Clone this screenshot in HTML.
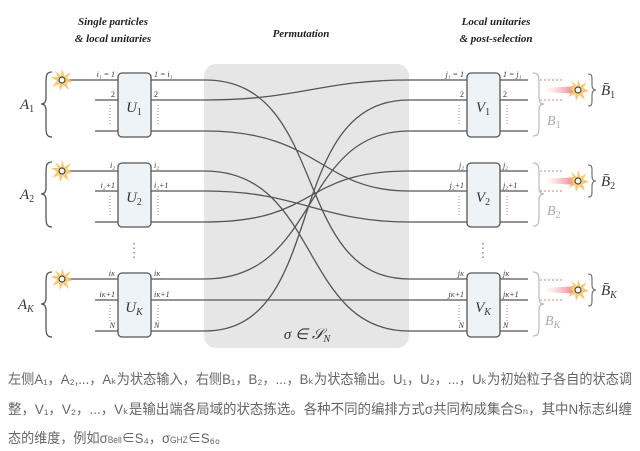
<!DOCTYPE html>
<html><head><meta charset="utf-8"><style>
html,body{margin:0;padding:0;background:#fff;width:640px;height:451px;overflow:hidden}
svg{display:block}
.t{font-family:"Liberation Serif",serif;font-style:italic;font-weight:bold;font-size:11px;fill:#222}
.sm{font-family:"Liberation Serif",serif;font-size:8px;fill:#333}
.smi{font-family:"Liberation Serif",serif;font-style:italic;font-size:8px;fill:#333}
.big{font-family:"Liberation Serif",serif;font-style:italic;font-size:15px;fill:#333}
.gr{font-family:"Liberation Serif",serif;font-style:italic;font-size:14px;fill:#aaa}
.cap{font-family:"Liberation Sans","Noto Sans CJK SC",sans-serif;font-size:14px;fill:#666}
</style></head><body>
<svg width="640" height="451" viewBox="0 0 640 451" xmlns="http://www.w3.org/2000/svg">
<defs>
<radialGradient id="st" cx="50%" cy="50%" r="50%"><stop offset="0" stop-color="#fff3c0"/><stop offset="0.5" stop-color="#fbc86a"/><stop offset="1" stop-color="#f8a040" stop-opacity="0.6"/></radialGradient>
<linearGradient id="bm" x1="0" x2="1"><stop offset="0" stop-color="#f7a0a8" stop-opacity="0"/><stop offset="1" stop-color="#e8707a"/></linearGradient>
<g id="star"><polygon points="0,-11 2.5,-4 9,-8 5,-2 11,1 4.5,3 7,10 1,5 -2,11 -3,4 -10,7 -5,1 -11,-3 -4,-3 -7,-9 -1,-4" fill="url(#st)"/><circle r="3" fill="#fff" stroke="#444" stroke-width="1.2"/></g>
</defs>
<text class="t" x="113" y="25" text-anchor="middle">Single particles</text>
<text class="t" x="113" y="42" text-anchor="middle">&amp; local unitaries</text>
<text class="t" x="301" y="37" text-anchor="middle">Permutation</text>
<text class="t" x="496" y="25" text-anchor="middle">Local unitaries</text>
<text class="t" x="496" y="42" text-anchor="middle">&amp; post-selection</text>

<rect x="204" y="64" width="205" height="284" rx="12" fill="#e6e6e6"/>
<text class="big" x="307" y="339" text-anchor="middle">σ ∈ 𝒮<tspan font-size="10" dy="3">N</tspan></text>

<g fill="none" stroke="#555" stroke-width="1.3">
<!-- left stubs -->
<path d="M62,80H118M95,100H118M95,131H118M62,171H118M95,191H118M95,222H118M62,279H118M95,300H118M95,331H118"/>
<!-- right stubs -->
<path d="M500,80H528M500,100H528M500,131H528M500,171H528M500,191H528M500,222H528M500,279H528M500,300H528M500,331H528"/>
<!-- permutation -->
<path d="M151,80H205C330,80 290,279 409,279H467"/>
<path d="M151,100H205C300,100 320,80 409,80H467"/>
<path d="M151,131H205C320,131 320,191 409,191H467"/>
<path d="M151,171H205C320,171 300,331 409,331H467"/>
<path d="M151,191H205C300,191 320,222 409,222H467"/>
<path d="M151,222H205C320,222 300,171 409,171H467"/>
<path d="M151,279H205C320,279 300,131 409,131H467"/>
<path d="M151,300H467"/>
<path d="M151,331H205C330,331 280,100 409,100H467"/>
<!-- left braces -->
<path d="M52,72C46,72 46,76 46,84V98Q46,104 41,104Q46,104 46,110V125C46,133 46,137 52,137"/>
<path d="M52,162C46,162 46,166 46,174V188Q46,194 41,194Q46,194 46,200V215C46,223 46,227 52,227"/>
<path d="M52,272C46,272 46,276 46,284V298Q46,304 41,304Q46,304 46,310V325C46,333 46,337 52,337"/>
</g>
<!-- right gray braces -->
<g fill="none" stroke="#bbb" stroke-width="1.2">
<path d="M533,73C539,73 539,77 539,85V98Q539,104 544,104Q539,104 539,110V125C539,133 539,136 533,136"/>
<path d="M533,163C539,163 539,167 539,175V188Q539,194 544,194Q539,194 539,200V215C539,223 539,226 533,226"/>
<path d="M533,272C539,272 539,276 539,284V298Q539,304 544,304Q539,304 539,310V325C539,333 539,336 533,336"/>
<path d="M540,80H562M540,100H562M540,171H562M540,191H562M540,280H562M540,300H562" stroke="#d99" stroke-dasharray="2,2"/>
</g>
<g fill="none" stroke="#666" stroke-width="1.1">
<path d="M588,74C592,74 592,76 592,80V85Q592,90 596,90Q592,90 592,95V100C592,104 592,106 588,106"/>
<path d="M588,165C592,165 592,167 592,171V176Q592,181 596,181Q592,181 592,186V191C592,195 592,197 588,197"/>
<path d="M588,274C592,274 592,276 592,280V285Q592,290 596,290Q592,290 592,295V300C592,304 592,306 588,306"/>
</g>
<!-- beams and stars -->
<polygon points="545,88 578,86 578,94 545,92" fill="url(#bm)"/>
<polygon points="545,179 578,177 578,185 545,183" fill="url(#bm)"/>
<polygon points="545,288 578,286 578,294 545,292" fill="url(#bm)"/>
<use href="#star" x="62" y="80"/><use href="#star" x="62" y="171"/><use href="#star" x="62" y="279"/>
<use href="#star" x="578" y="90"/><use href="#star" x="578" y="181"/><use href="#star" x="578" y="290"/>

<!-- boxes -->
<g fill="#eef3f7" stroke="#555" stroke-width="1.3">
<rect x="118" y="73" width="33" height="64" rx="4"/><rect x="118" y="163" width="33" height="64" rx="4"/><rect x="118" y="273" width="33" height="64" rx="4"/>
<rect x="467" y="73" width="33" height="64" rx="4"/><rect x="467" y="163" width="33" height="64" rx="4"/><rect x="467" y="273" width="33" height="64" rx="4"/>
</g>
<text class="big" x="134" y="112" text-anchor="middle">U<tspan font-size="10" font-style="normal" dy="3">1</tspan></text>
<text class="big" x="134" y="202" text-anchor="middle">U<tspan font-size="10" font-style="normal" dy="3">2</tspan></text>
<text class="big" x="134" y="312" text-anchor="middle">U<tspan font-size="10" dy="3">K</tspan></text>
<text class="big" x="483" y="112" text-anchor="middle">V<tspan font-size="10" font-style="normal" dy="3">1</tspan></text>
<text class="big" x="483" y="202" text-anchor="middle">V<tspan font-size="10" font-style="normal" dy="3">2</tspan></text>
<text class="big" x="483" y="312" text-anchor="middle">V<tspan font-size="10" dy="3">K</tspan></text>

<text class="big" x="20" y="109">A<tspan font-size="10" font-style="normal" dy="3">1</tspan></text>
<text class="big" x="20" y="199">A<tspan font-size="10" font-style="normal" dy="3">2</tspan></text>
<text class="big" x="18" y="309">A<tspan font-size="10" dy="3">K</tspan></text>
<text class="gr" x="547" y="125">B<tspan font-size="10" font-style="normal" dy="3">1</tspan></text>
<text class="gr" x="547" y="215">B<tspan font-size="10" font-style="normal" dy="3">2</tspan></text>
<text class="gr" x="545" y="325">B<tspan font-size="10" dy="3">K</tspan></text>
<text class="big" x="601" y="95">B̄<tspan font-size="10" font-style="normal" dy="3">1</tspan></text>
<text class="big" x="601" y="186">B̄<tspan font-size="10" font-style="normal" dy="3">2</tspan></text>
<text class="big" x="601" y="295">B̄<tspan font-size="10" dy="3">K</tspan></text>

<!-- small labels left -->
<g class="smi" text-anchor="end">
<text x="115" y="77">i₁ = 1</text><text x="115" y="97" font-style="normal">2</text>
<text x="115" y="168">i₂</text><text x="115" y="188">i₂+1</text>
<text x="115" y="276">i<tspan font-size="6">K</tspan></text><text x="115" y="297">i<tspan font-size="6">K</tspan>+1</text><text x="115" y="328">N</text>
<text x="464" y="77">j₁ = 1</text><text x="464" y="97" font-style="normal">2</text>
<text x="464" y="168">j₂</text><text x="464" y="188">j₂+1</text>
<text x="464" y="276">j<tspan font-size="6">K</tspan></text><text x="464" y="297">j<tspan font-size="6">K</tspan>+1</text><text x="464" y="328">N</text>
</g>
<g class="smi">
<text x="154" y="77">1 = i₁</text><text x="154" y="97" font-style="normal">2</text>
<text x="154" y="168">i₂</text><text x="154" y="188">i₂+1</text>
<text x="154" y="276">i<tspan font-size="6">K</tspan></text><text x="154" y="297">i<tspan font-size="6">K</tspan>+1</text><text x="154" y="328">N</text>
<text x="503" y="77">1 = j₁</text><text x="503" y="97" font-style="normal">2</text>
<text x="503" y="168">j₂</text><text x="503" y="188">j₂+1</text>
<text x="503" y="276">j<tspan font-size="6">K</tspan></text><text x="503" y="297">j<tspan font-size="6">K</tspan>+1</text><text x="503" y="328">N</text>
</g>
<!-- vertical dots -->
<g stroke="#888" stroke-width="1" stroke-dasharray="1,2">
<path d="M110,105V124M158,105V124M459,105V124M507,105V124"/>
<path d="M110,196V215M158,196V215M459,196V215M507,196V215"/>
<path d="M110,305V322M158,305V322M459,305V322M507,305V322"/>
<path d="M134,243V258M483,243V258" stroke-dasharray="1.5,3" stroke-width="1.5"/>
</g>

<text class="cap" x="8" y="384" textLength="624" lengthAdjust="spacingAndGlyphs">左侧A₁，A₂,...，Aₖ为状态输入，右侧B₁，B₂，...，Bₖ为状态输出。U₁，U₂，...，Uₖ为初始粒子各自的状态调</text>
<text class="cap" x="8" y="414" textLength="624" lengthAdjust="spacingAndGlyphs">整，V₁，V₂，...，Vₖ是输出端各局域的状态拣选。各种不同的编排方式σ共同构成集合Sₙ，其中N标志纠缠</text>
<text class="cap" x="8" y="443" textLength="220" lengthAdjust="spacingAndGlyphs">态的维度，例如σ<tspan font-size="9">Bell</tspan>∈S₄，σ<tspan font-size="9">GHZ</tspan>∈S₆。</text>
</svg>
</body></html>
